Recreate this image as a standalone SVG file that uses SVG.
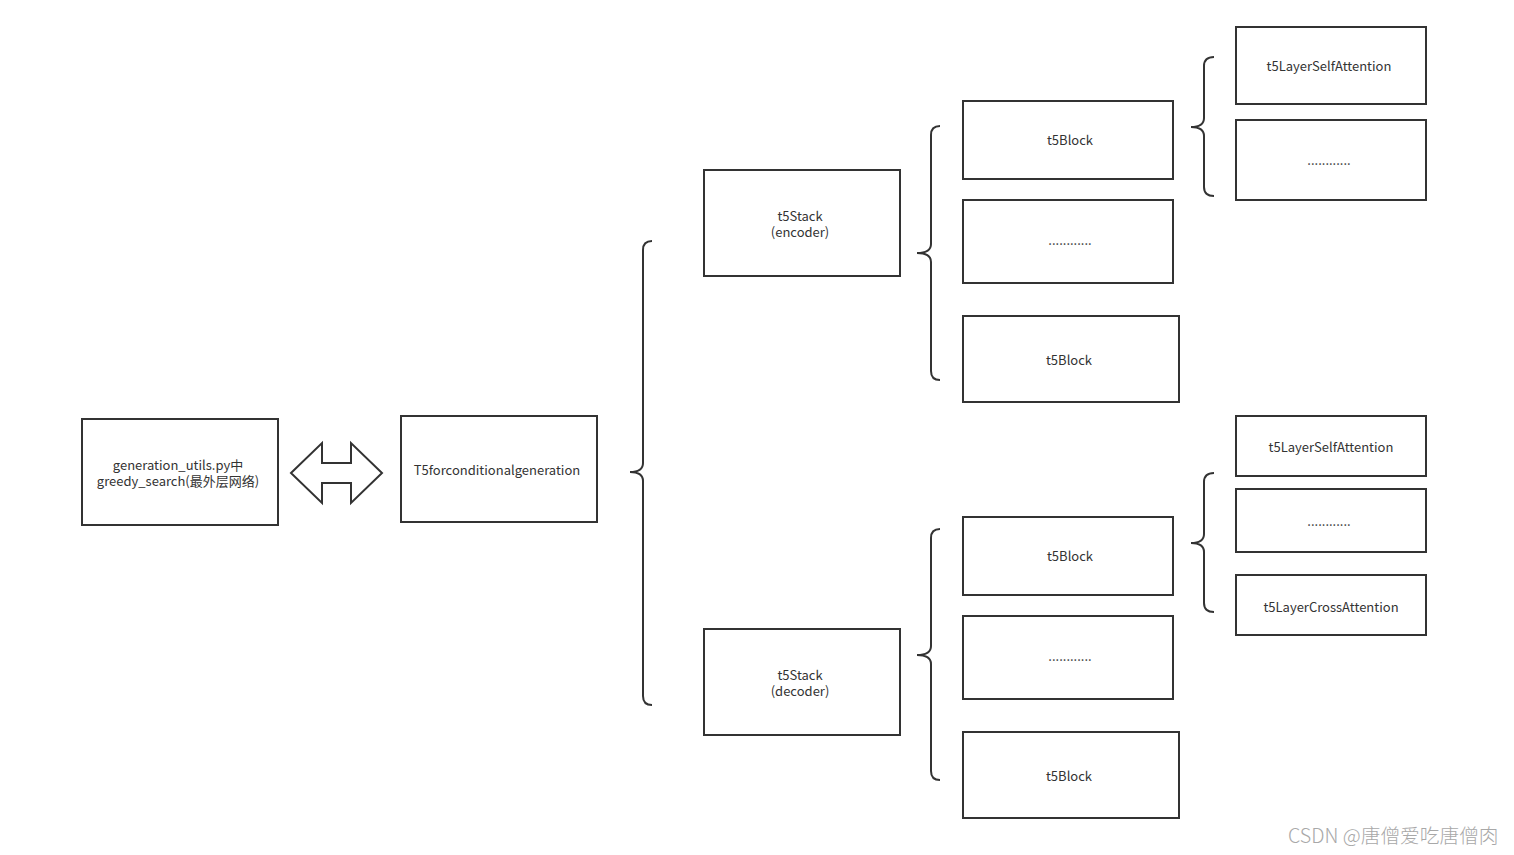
<svg xmlns="http://www.w3.org/2000/svg" width="1514" height="855" viewBox="0 0 1514 855">
<style>
.box{fill:#fff;stroke:#333;stroke-width:2}
.t{font-family:"Noto Sans CJK SC","Noto Sans",sans-serif;font-size:13px;fill:#333;text-anchor:middle}
.br{fill:none;stroke:#333;stroke-width:2}
.wm{font-family:"Noto Sans CJK SC","Noto Sans",sans-serif;font-size:19.7px;font-weight:300;fill:#a8a8a8}
</style>
<rect width="1514" height="855" fill="#fff"/>
<g id="n-greedy"><rect class="box" x="82" y="419" width="196" height="106"/><text class="t" x="178" y="470">generation_utils.py中</text><text class="t" x="178" y="486">greedy_search(最外层网络)</text></g>
<g id="n-t5cg"><rect class="box" x="401" y="416" width="196" height="106"/><text class="t" x="497" y="475">T5forconditionalgeneration</text></g>
<g id="n-enc"><rect class="box" x="704" y="170" width="196" height="106"/><text class="t" x="800" y="221">t5Stack</text><text class="t" x="800" y="237">(encoder)</text></g>
<g id="n-dec"><rect class="box" x="704" y="629" width="196" height="106"/><text class="t" x="800" y="680">t5Stack</text><text class="t" x="800" y="696">(decoder)</text></g>
<g id="n-eb1"><rect class="box" x="963" y="101" width="210" height="78"/><text class="t" x="1070" y="145">t5Block</text></g>
<g id="n-eb2"><rect class="box" x="963" y="200" width="210" height="83"/><text class="t" x="1070" y="245">............</text></g>
<g id="n-eb3"><rect class="box" x="963" y="316" width="216" height="86"/><text class="t" x="1069" y="365">t5Block</text></g>
<g id="n-db1"><rect class="box" x="963" y="517" width="210" height="78"/><text class="t" x="1070" y="561">t5Block</text></g>
<g id="n-db2"><rect class="box" x="963" y="616" width="210" height="83"/><text class="t" x="1070" y="661">............</text></g>
<g id="n-db3"><rect class="box" x="963" y="732" width="216" height="86"/><text class="t" x="1069" y="781">t5Block</text></g>
<g id="n-el1"><rect class="box" x="1236" y="27" width="190" height="77"/><text class="t" x="1329" y="71">t5LayerSelfAttention</text></g>
<g id="n-el2"><rect class="box" x="1236" y="120" width="190" height="80"/><text class="t" x="1329" y="165">............</text></g>
<g id="n-dl1"><rect class="box" x="1236" y="416" width="190" height="60"/><text class="t" x="1331" y="452">t5LayerSelfAttention</text></g>
<g id="n-dl2"><rect class="box" x="1236" y="489" width="190" height="63"/><text class="t" x="1329" y="526">............</text></g>
<g id="n-dl3"><rect class="box" x="1236" y="575" width="190" height="60"/><text class="t" x="1331" y="612">t5LayerCrossAttention</text></g>
<g id="connectors">
<path class="br" d="M291,473 L322,443 L322,463 L351,463 L351,443 L382,473 L351,503 L351,483 L322,483 L322,503 Z"/>
<path class="br" d="M652,241 Q643,241 643,250 L643,463 Q643,472 630,472 Q643,472 643,481 L643,696 Q643,705 652,705"/>
<path class="br" d="M940,126 Q931,126 931,135 L931,244 Q931,253 917,253 Q931,253 931,262 L931,371 Q931,380 940,380"/>
<path class="br" d="M940,529 Q931,529 931,538 L931,646 Q931,655 917,655 Q931,655 931,664 L931,771 Q931,780 940,780"/>
<path class="br" d="M1214,57 Q1204,57 1204,66 L1204,118 Q1204,127 1191,127 Q1204,127 1204,136 L1204,187 Q1204,196 1214,196"/>
<path class="br" d="M1214,473 Q1204,473 1204,482 L1204,534 Q1204,543 1191,543 Q1204,543 1204,552 L1204,603 Q1204,612 1214,612"/>
</g>
<text class="wm" x="1288" y="843">CSDN @唐僧爱吃唐僧肉</text>
</svg>
